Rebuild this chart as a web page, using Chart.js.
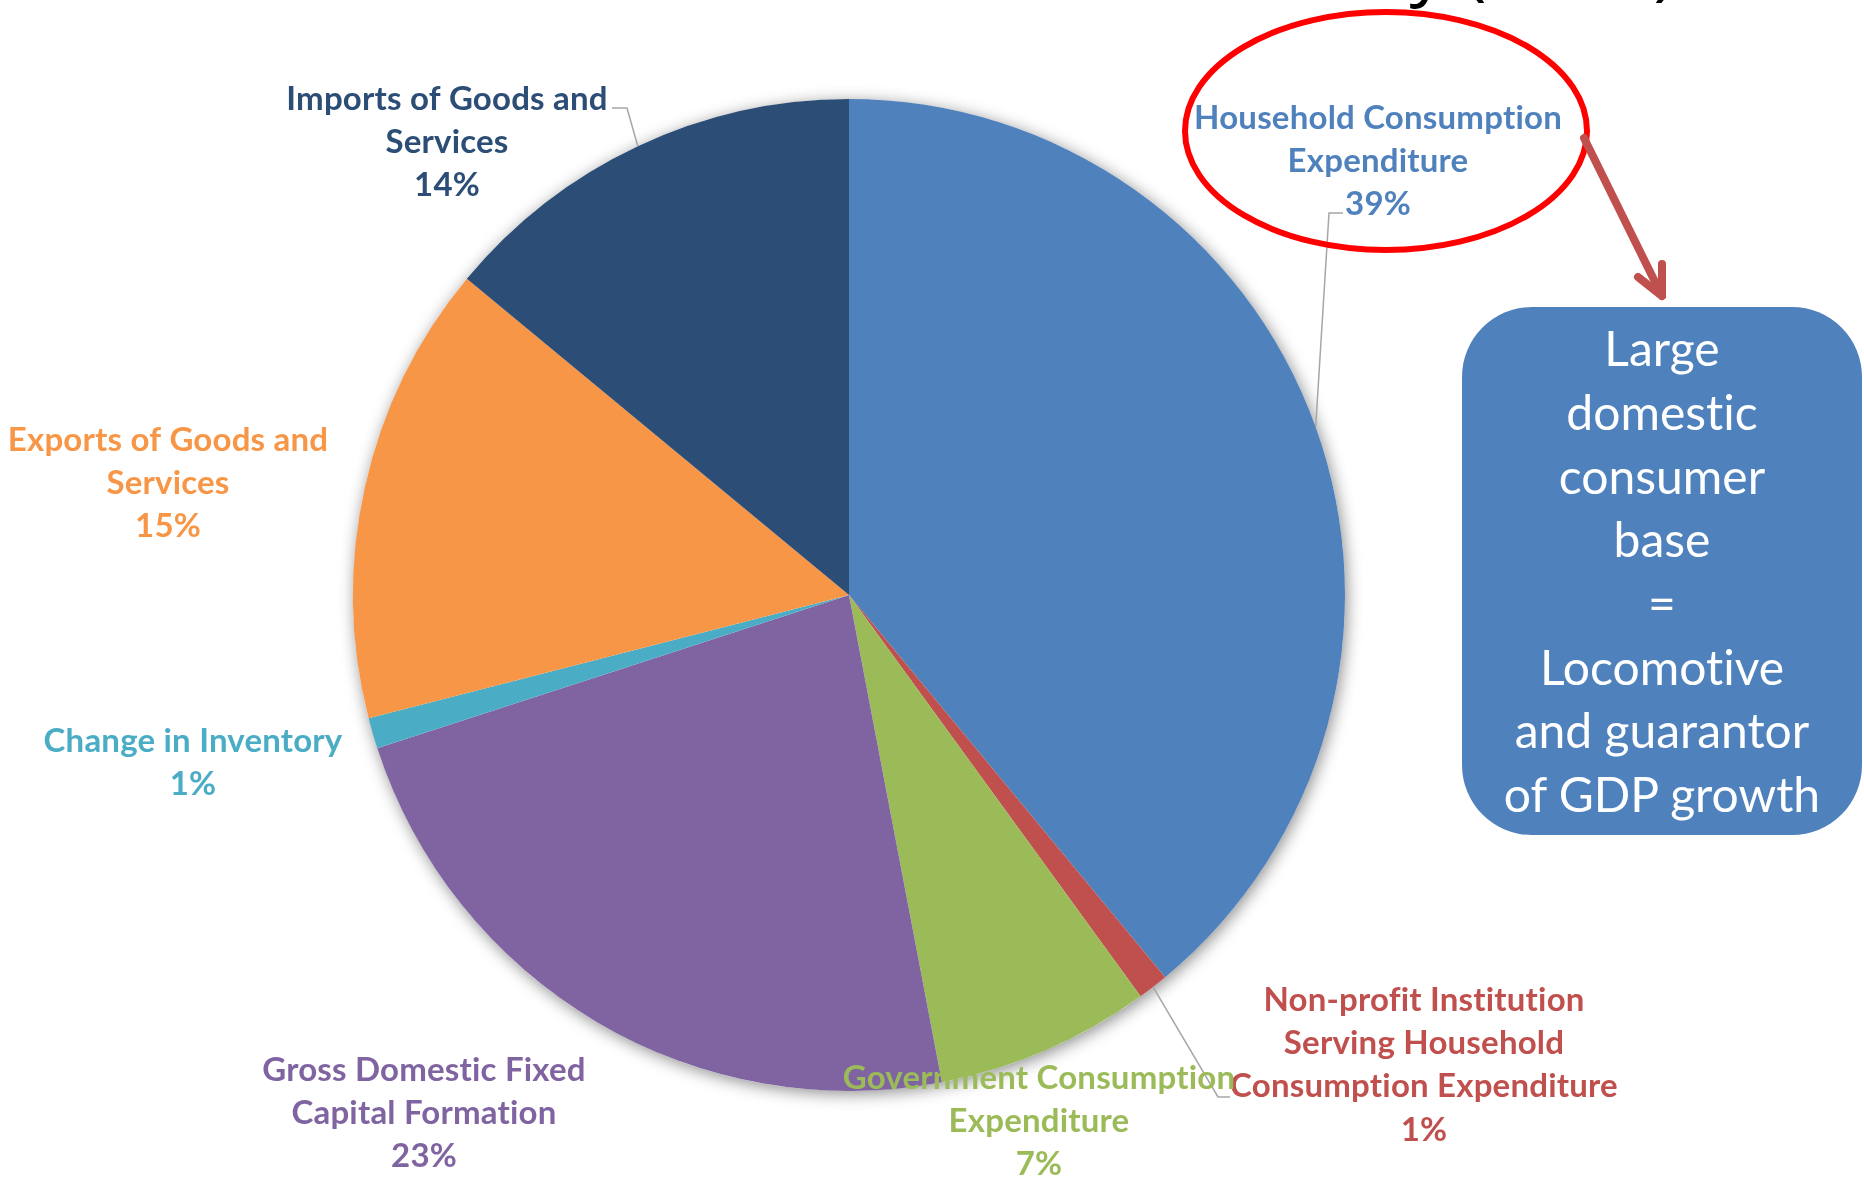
<!DOCTYPE html>
<html>
<head>
<meta charset="utf-8">
<script src="https://cdn.jsdelivr.net/npm/chart.js@4.4.1/dist/chart.umd.min.js"></script>
<style>
    html, body { margin: 0; padding: 0; background: #fff; }
    #wrap { position: relative; width: 1864px; height: 1182px; overflow: hidden; }
    #gdpChart { position: absolute; left: 0; top: 0; }
    .title {
        position: absolute; right: 189px; top: -74px;
        font: 73px 'Open Sans', sans-serif; line-height: 1; color: #000; white-space: nowrap;
    }
    .note-box {
        position: absolute; left: 1462px; top: 307px; width: 400px; height: 528px;
        border-radius: 70px; background: #4F81BD; color: #fff;
        font: 48px Lato, sans-serif; line-height: 63.7px; text-align: center;
        font-variant-ligatures: none;
        display: flex; align-items: center; justify-content: center;
    }
    #marks { position: absolute; left: 0; top: 0; }
</style>
</head>
<body>
<div id="wrap">
    <canvas id="gdpChart" width="1864" height="1182"></canvas>
    <div class="title">Structure of the Economy (2015)</div>
    <svg id="marks" width="1864" height="1182">
        <ellipse cx="1386" cy="131" rx="201" ry="119" fill="none" stroke="#FF0000" stroke-width="6"/>
        <g stroke="#C0504D" stroke-width="8" stroke-linecap="round" fill="none">
            <line x1="1584" y1="138" x2="1662" y2="296"/>
            <polyline points="1638,277 1662,296 1662,264" stroke-linejoin="round"/>
        </g>
    </svg>
    <div class="note-box"><div>Large<br>domestic<br>consumer<br>base<br>=<br>Locomotive<br>and guarantor<br>of GDP growth</div></div>
</div>
<script>
document.addEventListener("DOMContentLoaded", () => {

    // GDP by expenditure component, share in %
    const categories = [
        'Household Consumption Expenditure',
        'Non-profit Institution Serving Household Consumption Expenditure',
        'Government Consumption Expenditure',
        'Gross Domestic Fixed Capital Formation',
        'Change in Inventory',
        'Exports of Goods and Services',
        'Imports of Goods and Services'
    ];
    const shares = [39, 1, 7, 23, 1, 15, 14];
    const sliceColors = ['#4F81BD', '#C0504D', '#9BBB59', '#8064A2', '#4BACC6', '#F79646', '#2C4D75'];

    // wrapped label text, percentage line is appended when drawing
    const labelLines = [
        ['Household Consumption', 'Expenditure'],
        ['Non-profit Institution', 'Serving Household', 'Consumption Expenditure'],
        ['Government Consumption', 'Expenditure'],
        ['Gross Domestic Fixed', 'Capital Formation'],
        ['Change in Inventory'],
        ['Exports of Goods and', 'Services'],
        ['Imports of Goods and', 'Services']
    ];

    // where each label sits, plus the bend points of its leader line
    const labelSpots = [
        { x: 1378, y: 118, leader: [[1329, 213], [1343, 213]] },
        { x: 1424, y: 1000, leader: [[1218, 1097], [1230, 1097]] },
        { x: 1039, y: 1078 },
        { x: 424, y: 1070 },
        { x: 193, y: 741 },
        { x: 168, y: 440 },
        { x: 447, y: 99, leader: [[627, 108], [612, 108]] }
    ];
    const lineGap = 43.4;

    // soft drop shadow behind the whole pie
    const pieShadow = {
        id: 'pieShadow',
        beforeDatasetsDraw(chart) {
            const arc = chart.getDatasetMeta(0).data[0];
            if (!arc) return;
            const ctx = chart.ctx;
            ctx.save();
            ctx.shadowColor = 'rgba(0, 0, 0, 0.45)';
            ctx.shadowBlur = 16;
            ctx.shadowOffsetX = 2;
            ctx.shadowOffsetY = 3;
            ctx.beginPath();
            ctx.arc(arc.x, arc.y, arc.outerRadius, 0, Math.PI * 2);
            ctx.fillStyle = '#fff';
            ctx.fill();
            ctx.restore();
        }
    };

    const sliceLabels = {
        id: 'sliceLabels',
        afterDatasetsDraw(chart) {
            const ctx = chart.ctx;
            const arcs = chart.getDatasetMeta(0).data;
            ctx.save();
            arcs.forEach((arc, i) => {
                const spot = labelSpots[i];
                if (spot.leader) {
                    const mid = (arc.startAngle + arc.endAngle) / 2;
                    ctx.beginPath();
                    ctx.moveTo(arc.x + Math.cos(mid) * arc.outerRadius, arc.y + Math.sin(mid) * arc.outerRadius);
                    spot.leader.forEach(([x, y]) => ctx.lineTo(x, y));
                    ctx.strokeStyle = '#A6A6A6';
                    ctx.lineWidth = 1.5;
                    ctx.stroke();
                }
                const lines = [...labelLines[i], `${shares[i]}%`];
                ctx.fillStyle = sliceColors[i];
                ctx.font = "bold 33px Lato";
                ctx.letterSpacing = '0.2px'; // keeps "ti" from turning into a ligature
                ctx.textAlign = 'center';
                ctx.textBaseline = 'middle';
                lines.forEach((t, k) => ctx.fillText(t, spot.x, spot.y + k * lineGap));
            });
            ctx.restore();
        }
    };

    new Chart(document.getElementById('gdpChart'), {
        type: 'pie',
        data: {
            labels: categories,
            datasets: [{
                data: shares,
                backgroundColor: sliceColors,
                borderWidth: 0
            }]
        },
        options: {
            responsive: false,
            animation: false,
            layout: { padding: { left: 353, right: 519, top: 99, bottom: 91 } },
            plugins: {
                legend: { display: false },
                tooltip: { enabled: false }
            }
        },
        plugins: [pieShadow, sliceLabels]
    });
});
</script>
</body>
</html>
